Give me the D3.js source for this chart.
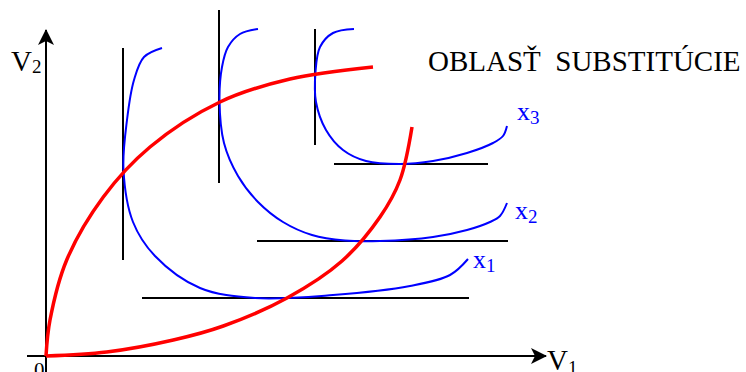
<!DOCTYPE html>
<html>
<head>
<meta charset="utf-8">
<script src="https://cdn.jsdelivr.net/npm/d3@7"></script>
<style>
  body { margin: 0; background: #fff; }
  text { font-family: "Liberation Serif", "Times New Roman", serif; }
</style>
</head>
<body>
<div id="chart"></div>
<script>
// isoquants x1, x2, x3 as [V1, V2]
var iso1 = [[11.6,30.8],[9.8,29.9],[8.8,27.6],[8.1,23.6],[7.75,18.6],[8.7,13.4],[10.9,10.0],[15.4,6.8],
            [20.9,5.8],[28.7,6.1],[36.4,7.0],[40.4,8.1],[42.2,9.7]];
var iso2 = [[21.2,32.7],[19.4,32.2],[18.2,30.9],[17.6,28.9],[17.35,25.6],[17.8,21.3],[19.2,18.0],[21.2,15.4],
            [23.7,13.4],[26.6,12.1],[29.9,11.55],[33.4,11.5],[38.7,11.9],[42.1,12.6],[44.4,13.4],[45.4,14.0],[46.1,15.3]];
var iso3 = [[30.8,32.7],[28.7,32.3],[27.4,30.9],[26.95,28.4],[27.0,25.4],[28.0,22.6],[29.7,20.6],[32.0,19.5],
            [35.4,19.2],[38.7,19.5],[42.1,20.3],[44.7,21.3],[45.7,22.0],[46.1,23.0]];

// ridge lines
var ridgeUp = [[0,0],[0.4,3.6],[2.07,9.6],[5.73,15.9],[10.4,20.9],[17.4,25.4],[24.4,27.7],[32.7,28.9]];
var ridgeLow = [[0,0],[6.07,0.4],[12.73,1.6],[17.73,3.0],[24.1,5.8],[29.6,9.5],[33.4,13.9],[35.4,17.6],[36.6,22.9]];

// tangents: vertical [V1, V2 from, V2 to], horizontal [V2, V1 from, V1 to]
var vTangents = [[7.7, 9.6, 30.8], [17.3, 17.3, 34.6], [26.9, 21.1, 32.7]];
var hTangents = [[5.8, 9.6, 42.3], [11.5, 21.1, 46.2], [19.2, 28.8, 44.2]];

var isoLabels = ["1", "2", "3"];

var width = 746, height = 372;

var x = d3.scaleLinear().domain([0, 50]).range([46, 546]);
var y = d3.scaleLinear().domain([0, 32.6]).range([356, 30]);

var svg = d3.select("#chart").append("svg")
    .attr("width", width)
    .attr("height", height);

svg.append("defs").append("marker")
    .attr("id", "arrow")
    .attr("viewBox", "0 0 16 16")
    .attr("refX", 15).attr("refY", 8)
    .attr("markerWidth", 16).attr("markerHeight", 16)
    .attr("markerUnits", "userSpaceOnUse")
    .attr("orient", "auto")
  .append("path")
    .attr("d", "M0,0 L16,8 L0,16 L4,8 Z")
    .attr("fill", "black");

// axes
svg.append("line")
    .attr("x1", x(0)).attr("y1", y(-1.7))
    .attr("x2", x(0)).attr("y2", y(32.6))
    .attr("stroke", "black").attr("stroke-width", 2)
    .attr("marker-end", "url(#arrow)");
svg.append("line")
    .attr("x1", x(-1.9)).attr("y1", y(0))
    .attr("x2", x(50)).attr("y2", y(0))
    .attr("stroke", "black").attr("stroke-width", 2)
    .attr("marker-end", "url(#arrow)");

// tangent lines
svg.selectAll(".vt").data(vTangents).enter().append("line")
    .attr("x1", function(d) {return x(d[0]);}).attr("x2", function(d) {return x(d[0]);})
    .attr("y1", function(d) {return y(d[1]);}).attr("y2", function(d) {return y(d[2]);})
    .attr("stroke", "black").attr("stroke-width", 2);
svg.selectAll(".ht").data(hTangents).enter().append("line")
    .attr("y1", function(d) {return y(d[0]);}).attr("y2", function(d) {return y(d[0]);})
    .attr("x1", function(d) {return x(d[1]);}).attr("x2", function(d) {return x(d[2]);})
    .attr("stroke", "black").attr("stroke-width", 2);

var line = d3.line()
    .x(function(d) {return x(d[0]);})
    .y(function(d) {return y(d[1]);})
    .curve(d3.curveCatmullRom.alpha(0.5));

svg.selectAll(".iso").data([iso1, iso2, iso3]).enter().append("path")
    .attr("d", line)
    .attr("fill", "none").attr("stroke", "#0000ff").attr("stroke-width", 2);

svg.selectAll(".ridge").data([ridgeUp, ridgeLow]).enter().append("path")
    .attr("d", line)
    .attr("fill", "none").attr("stroke", "#ff0000").attr("stroke-width", 3.5);

// isoquant labels next to the right ends (pixel offsets)
var labelOffset = [[5, 9], [8, 16], [10, -6]];
[iso1, iso2, iso3].forEach(function(d, i) {
    var end = d[d.length - 1];
    var t = svg.append("text")
        .attr("x", x(end[0]) + labelOffset[i][0])
        .attr("y", y(end[1]) + labelOffset[i][1])
        .attr("fill", "#0000ff")
        .attr("font-size", 26);
    t.append("tspan").text("x");
    t.append("tspan").attr("font-size", 19).attr("dy", 4).text(isoLabels[i]);
});

// axis labels
var v2 = svg.append("text").attr("x", 11).attr("y", 71).attr("font-size", 29);
v2.append("tspan").text("V");
v2.append("tspan").attr("font-size", 19).attr("dy", 2).text("2");

var v1 = svg.append("text").attr("x", 547).attr("y", 370).attr("font-size", 29);
v1.append("tspan").text("V");
v1.append("tspan").attr("font-size", 19).attr("dy", 4).text("1");

svg.append("text").attr("x", 34).attr("y", 377).attr("font-size", 21).text("0");

svg.append("text").attr("x", 428).attr("y", 71).attr("font-size", 29)
    .style("white-space", "pre")
    .text("OBLASŤ  SUBSTITÚCIE");
</script>
</body>
</html>
